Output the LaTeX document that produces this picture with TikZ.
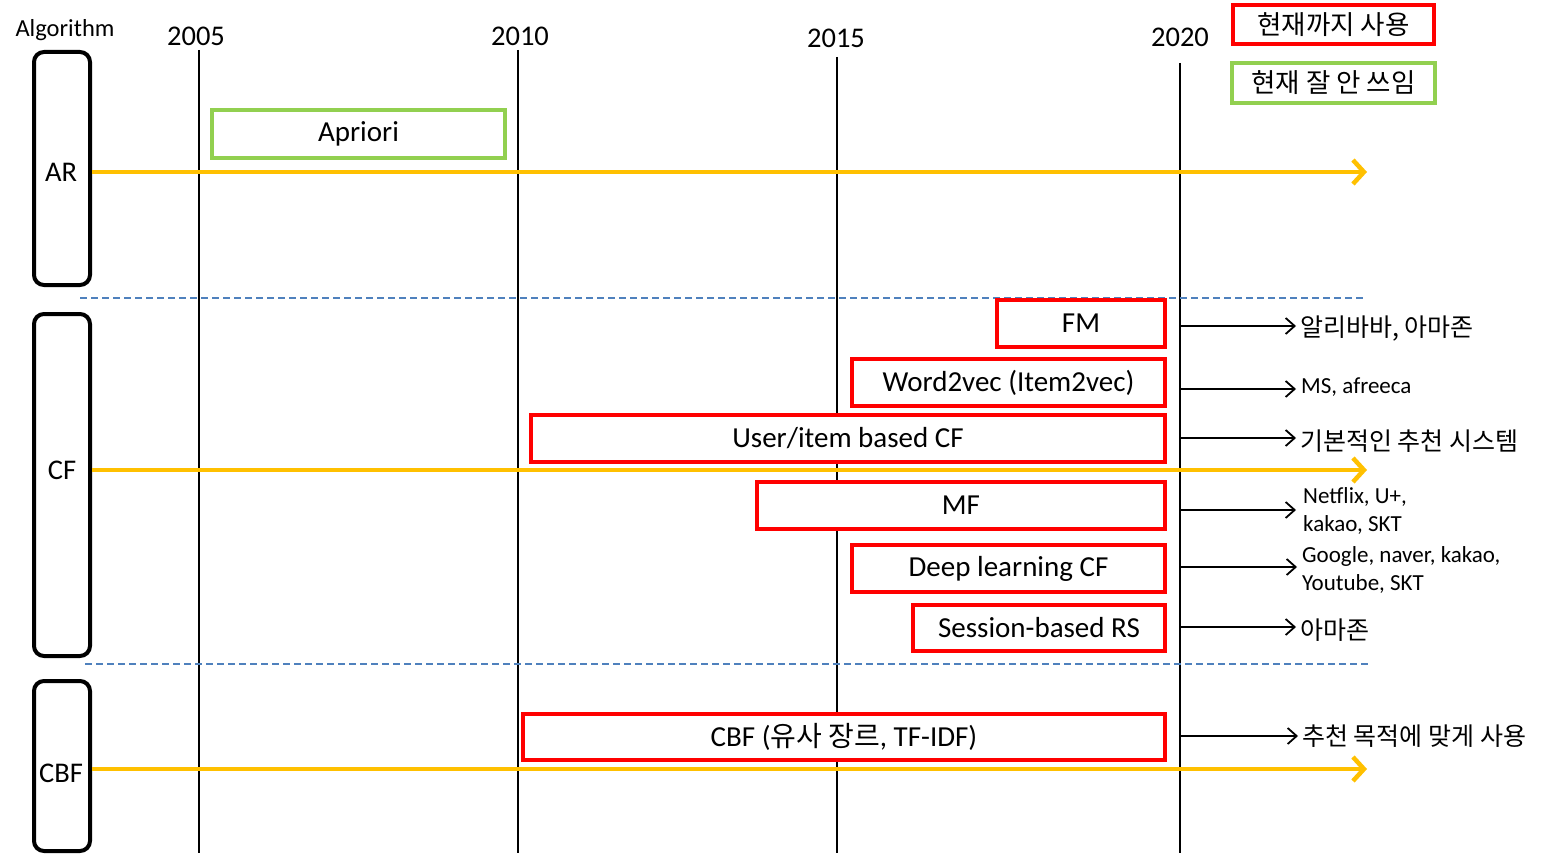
\documentclass[tikz,border=0pt]{standalone}
\usepackage{fontspec}
\setmainfont{Carlito}
\newfontfamily\kr{Noto Sans CJK KR}
\usetikzlibrary{arrows.meta}
\definecolor{orng}{HTML}{FFC000}
\definecolor{grn}{HTML}{92D050}
\definecolor{rd}{HTML}{FF0000}
\definecolor{dblue}{HTML}{4F81BD}
\tikzset{
  yearline/.style={line width=2.8pt},
  yearlab/.style={font=\fontsize{28.5}{32}\selectfont},
  catbox/.style={draw, line width=4pt, rounded corners=10pt, minimum width=56pt, inner sep=0pt},
  catlab/.style={font=\fontsize{28.5}{32}\selectfont},
  redbox/.style={draw=rd, line width=3.6pt, inner sep=0pt, font=\fontsize{29}{32}\selectfont},
  greenbox/.style={draw=grn, line width=3.6pt, inner sep=0pt, font=\fontsize{29}{32}\selectfont},
  timeline/.style={draw=orng, line width=4.5pt, -{Straight Barb[length=11pt,width=24pt]}},
  sep/.style={draw=dblue, line width=1.6pt, dash pattern=on 7pt off 4pt},
  useline/.style={draw, line width=1.8pt, -{Straight Barb[length=9pt,width=16pt]}},
  uselab/.style={anchor=west, inner sep=0pt, align=left, font=\fontsize{23}{28}\selectfont},
  kruse/.style={anchor=west, inner sep=0pt, font=\kr\fontsize{25}{28}\selectfont}
}
\begin{document}
\begin{tikzpicture}[x=1pt,y=-1pt]
\useasboundingbox (0,0) rectangle (1542,856);

% header
\node[font=\fontsize{24.5}{28}\selectfont] (alg) at (65,30) {Algorithm};
\node[yearlab] (y2005) at (196,36) {2005};
\node[yearlab] (y2010) at (520,36) {2010};
\node[yearlab] (y2015) at (836,38) {2015};
\node[yearlab] (y2020) at (1180,37) {2020};

% legend
\node[redbox, minimum width=201pt, minimum height=39pt, font=\kr\fontsize{26.5}{30}\selectfont] (legred) at (1333.5,24.5) {현재까지 사용};
\node[greenbox, minimum width=203pt, minimum height=40pt, font=\kr\fontsize{26.5}{30}\selectfont] (leggreen) at (1333.5,83) {현재 잘 안 쓰임};

% year lines
\coordinate (t2005) at (199,50);   \coordinate (b2005) at (199,853);
\coordinate (t2010) at (518,50);   \coordinate (b2010) at (518,853);
\coordinate (t2015) at (837,57);   \coordinate (b2015) at (837,853);
\coordinate (t2020) at (1180,63);  \coordinate (b2020) at (1180,853);
\draw[yearline] (t2005) -- (b2005);
\draw[yearline] (t2010) -- (b2010);
\draw[yearline] (t2015) -- (b2015);
\draw[yearline] (t2020) -- (b2020);

% category boxes
\node[catbox, minimum height=233pt] (ARbox) at (62,168.5) {};
\node[catbox, minimum height=342pt] (CFbox) at (62,485) {};
\node[catbox, minimum height=170pt] (CBFbox) at (62,766) {};
\node[catlab] (ARlab) at (61,172) {AR};
\node[catlab] (CFlab) at (62,470) {CF};
\node[catlab] (CBFlab) at (61,773) {CBF};

% separators
\coordinate (s1a) at (80,298);  \coordinate (s1b) at (1365,298);
\coordinate (s2a) at (85,664);  \coordinate (s2b) at (1368,664);
\draw[sep] (s1a) -- (s1b);
\draw[sep] (s2a) -- (s2b);

% timelines
\coordinate (ARend) at (1367,172);
\coordinate (CFend) at (1367,470);
\coordinate (CBFend) at (1367,769);
\draw[timeline] (ARbox.east |- ARend) -- (ARend);
\draw[timeline] (CFbox.east |- CFend) -- (CFend);
\draw[timeline] (CBFbox.east |- CBFend) -- (CBFend);

% algorithm boxes
\node[greenbox, minimum width=293pt, minimum height=48pt, fill=white] (apriori) at (358.5,134) {Apriori};
\node[redbox, minimum width=168pt, minimum height=47pt, fill=white] (fm) at (1081,323.5) {FM};
\node[redbox, minimum width=313pt, minimum height=47pt, fill=white] (w2v) at (1008.5,382.5) {Word2vec (Item2vec)};
\node[redbox, minimum width=634pt, minimum height=47pt, fill=white] (uicf) at (848,438.5) {User/item based CF};
\node[redbox, minimum width=408pt, minimum height=47pt, fill=white] (mf) at (961,505.5) {MF};
\node[redbox, minimum width=313pt, minimum height=47pt, fill=white] (dlcf) at (1008.5,568.5) {Deep learning CF};
\node[redbox, minimum width=252pt, minimum height=46pt, fill=white] (srs) at (1039,628) {Session-based RS};
\node[redbox, minimum width=642pt, minimum height=46pt, fill=white] (cbf) at (844,737) {CBF ({\kr\fontsize{28}{30}\selectfont 유사 장르}, TF-IDF)};

% usage labels
\node[kruse] (u1) at (1300,329) {알리바바, 아마존};
\node[uselab] (u2) at (1301,387) {MS, afreeca};
\node[kruse] (u3) at (1300,441) {기본적인 추천 시스템};
\node[uselab] (u4) at (1303,511) {Netflix, U+,\\kakao, SKT};
\node[uselab] (u5) at (1302,570) {Google, naver, kakao,\\Youtube, SKT};
\node[kruse] (u6) at (1300,630) {아마존};
\node[kruse] (u7) at (1302,736) {추천 목적에 맞게 사용};

\coordinate (a1) at (1180,326);
\coordinate (a2) at (1180,389);
\coordinate (a3) at (1180,438);
\coordinate (a4) at (1180,510);
\coordinate (a5) at (1180,567);
\coordinate (a6) at (1180,627);
\coordinate (a7) at (1180,736);
\coordinate (e1) at (1296,326);
\coordinate (e2) at (1296,389);
\coordinate (e3) at (1296,438);
\coordinate (e4) at (1296,510);
\coordinate (e5) at (1297,567);
\coordinate (e6) at (1296,627);
\coordinate (e7) at (1298,736);
\draw[useline] (a1) -- (e1);
\draw[useline] (a2) -- (e2);
\draw[useline] (a3) -- (e3);
\draw[useline] (a4) -- (e4);
\draw[useline] (a5) -- (e5);
\draw[useline] (a6) -- (e6);
\draw[useline] (a7) -- (e7);
\end{tikzpicture}
\end{document}
